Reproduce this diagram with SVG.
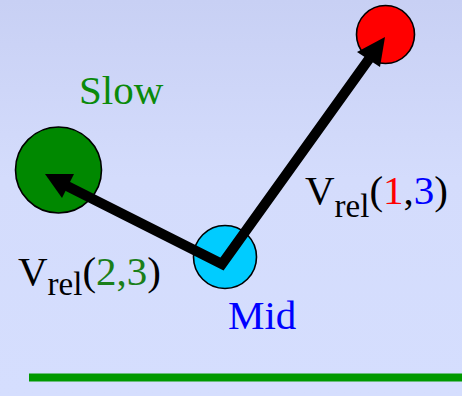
<svg xmlns="http://www.w3.org/2000/svg" width="462" height="396" viewBox="0 0 462 396">
<defs>
<linearGradient id="bg" x1="0" y1="0" x2="0" y2="1">
<stop offset="0" stop-color="#c8d0f4"/>
<stop offset="0.45" stop-color="#d4dcfc"/>
<stop offset="1" stop-color="#d5defe"/>
</linearGradient>
<style>
.t{font-family:"Liberation Serif","Times New Roman",serif;font-size:41px}
.s{font-size:33px}
.node{stroke:#000;stroke-width:1.6}
</style>
</defs>
<rect width="462" height="396" fill="url(#bg)"/>
<g id="slow">
<circle class="node" cx="58.5" cy="170" r="43" fill="#008800"/>
<text class="t" x="79" y="104" fill="#0a8a0a">Slow</text>
</g>
<g id="fast">
<circle class="node" cx="385.5" cy="34.5" r="29" fill="#ff0000"/>
</g>
<g id="mid">
<circle class="node" cx="225" cy="257" r="31.5" fill="#00ccff"/>
<text class="t" x="228" y="329" fill="#0000ff">Mid</text>
</g>
<g id="connectors">
<polyline points="67,186 222,264 369,59" fill="none" stroke="#000" stroke-width="10" stroke-linejoin="miter"/>
<polygon points="45,174 74,174 62,198" fill="#000"/>
<polygon points="385,37 357,52 380,67" fill="#000"/>
</g>
<g id="label13">
<text class="t" x="305" y="204" fill="#000">V<tspan class="s" dy="13">rel</tspan><tspan dy="-13">(</tspan><tspan fill="#ff0000">1</tspan>,<tspan fill="#0000ff">3</tspan>)</text>
</g>
<g id="label23">
<text class="t" x="18" y="285" fill="#000">V<tspan class="s" dy="10">rel</tspan><tspan dy="-10">(</tspan><tspan fill="#1a7f1a">2,3</tspan>)</text>
</g>
<rect x="29" y="373.5" width="433" height="8" fill="#009900"/>
</svg>
